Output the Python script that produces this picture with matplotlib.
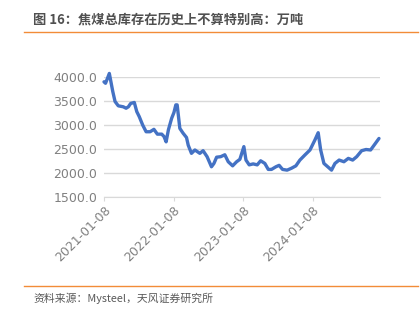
import matplotlib.pyplot as plt
import pandas as pd
from matplotlib.lines import Line2D

plt.rcParams["font.family"] = ["Noto Sans CJK SC", "DejaVu Sans"]

# Coking coal total inventory (10k tonnes)
dates = [
    "2021-01-08", "2021-01-16", "2021-01-24", "2021-02-05", "2021-02-23",
    "2021-03-07", "2021-03-24", "2021-04-19", "2021-05-04", "2021-05-16",
    "2021-05-28", "2021-06-16", "2021-06-29", "2021-07-12", "2021-07-30",
    "2021-08-17", "2021-09-07", "2021-09-27", "2021-10-15", "2021-11-07",
    "2021-11-19", "2021-11-30", "2021-12-12", "2021-12-29", "2022-01-10",
    "2022-01-20", "2022-01-27", "2022-02-10", "2022-02-27", "2022-03-17",
    "2022-03-26", "2022-04-12", "2022-04-30", "2022-05-26", "2022-06-12",
    "2022-07-03", "2022-07-26", "2022-08-08", "2022-08-22", "2022-09-12",
    "2022-10-04", "2022-10-22", "2022-11-14", "2022-12-05", "2022-12-22",
    "2023-01-12", "2023-01-23", "2023-02-09", "2023-03-02", "2023-03-23",
    "2023-04-10", "2023-05-02", "2023-05-20", "2023-06-06", "2023-06-29",
    "2023-07-16", "2023-08-03", "2023-08-27", "2023-09-19", "2023-10-12",
    "2023-11-02", "2023-11-28", "2023-12-25", "2024-01-20", "2024-02-06",
    "2024-02-19", "2024-03-07", "2024-03-30", "2024-04-16", "2024-05-04",
    "2024-05-26", "2024-06-20", "2024-07-13", "2024-08-05", "2024-08-26",
    "2024-09-21", "2024-10-14", "2024-11-07", "2024-11-30", "2024-12-21",
]
inventory = [
    3900, 3870, 3950, 4075, 3700,
    3490, 3400, 3380, 3350, 3380,
    3450, 3470, 3280, 3175, 3000,
    2860, 2860, 2910, 2810, 2810,
    2760, 2650, 2900, 3140, 3260,
    3420, 3420, 2930, 2830, 2740,
    2580, 2410, 2480, 2410, 2465,
    2340, 2130, 2200, 2330, 2340,
    2380, 2235, 2150, 2235, 2285,
    2550, 2270, 2170, 2190, 2170,
    2255, 2200, 2075, 2075, 2130,
    2160, 2075, 2060, 2100, 2150,
    2270, 2375, 2480, 2690, 2840,
    2480, 2200, 2120, 2060, 2200,
    2270, 2235, 2305, 2270, 2340,
    2465, 2490, 2480, 2605, 2720,
]
tick_labels = ["2021-01-08", "2022-01-08", "2023-01-08", "2024-01-08"]
y_ticks = [1500, 2000, 2500, 3000, 3500, 4000]

title = "图 16：焦煤总库存在历史上不算特别高：万吨"
source = "资料来源：Mysteel，天风证券研究所"

x = pd.to_datetime(dates)

fig = plt.figure(figsize=(4.2, 3.17), dpi=100)
ax = fig.add_axes([0.2476, 0.3785, 0.657, 0.3785])

ax.plot(x, inventory, color="#4472C4", linewidth=2.4, solid_capstyle="round",
        clip_on=False, zorder=3)

ax.set_xlim(pd.Timestamp("2021-01-08"), pd.Timestamp("2024-12-26"))
ax.set_ylim(1500, 4000)
ax.set_yticks(y_ticks)
ax.set_yticklabels([f"{v:.1f}" for v in y_ticks])
ax.set_xticks(pd.to_datetime(tick_labels))
ax.set_xticklabels(tick_labels, rotation=45, ha="right", rotation_mode="anchor")

ax.grid(axis="y", color="#D9D9D9", linewidth=1)
ax.set_axisbelow(True)
for side in ["top", "right", "left"]:
    ax.spines[side].set_visible(False)
ax.spines["bottom"].set_color("#D9D9D9")
ax.tick_params(axis="y", length=0, labelsize=9, colors="#808080", pad=5)
ax.tick_params(axis="x", length=3, color="#D9D9D9", labelsize=9,
               labelcolor="#808080", pad=2)
for lbl in ax.get_yticklabels() + ax.get_xticklabels():
    lbl.set_family("DejaVu Sans")

fig.text(0.079, 0.938, title, fontsize=9.5, fontweight="bold",
         color="#505050", va="center")
fig.add_artist(Line2D([0.057, 0.995], [0.899, 0.899], color="#F28C38",
                      linewidth=1.0, transform=fig.transFigure))
fig.add_artist(Line2D([0.057, 0.995], [0.098, 0.098], color="#F28C38",
                      linewidth=1.0, transform=fig.transFigure))
fig.text(0.079, 0.06, source, fontsize=7.8, color="#595959", va="center")

fig.savefig("out.png", dpi=100)
